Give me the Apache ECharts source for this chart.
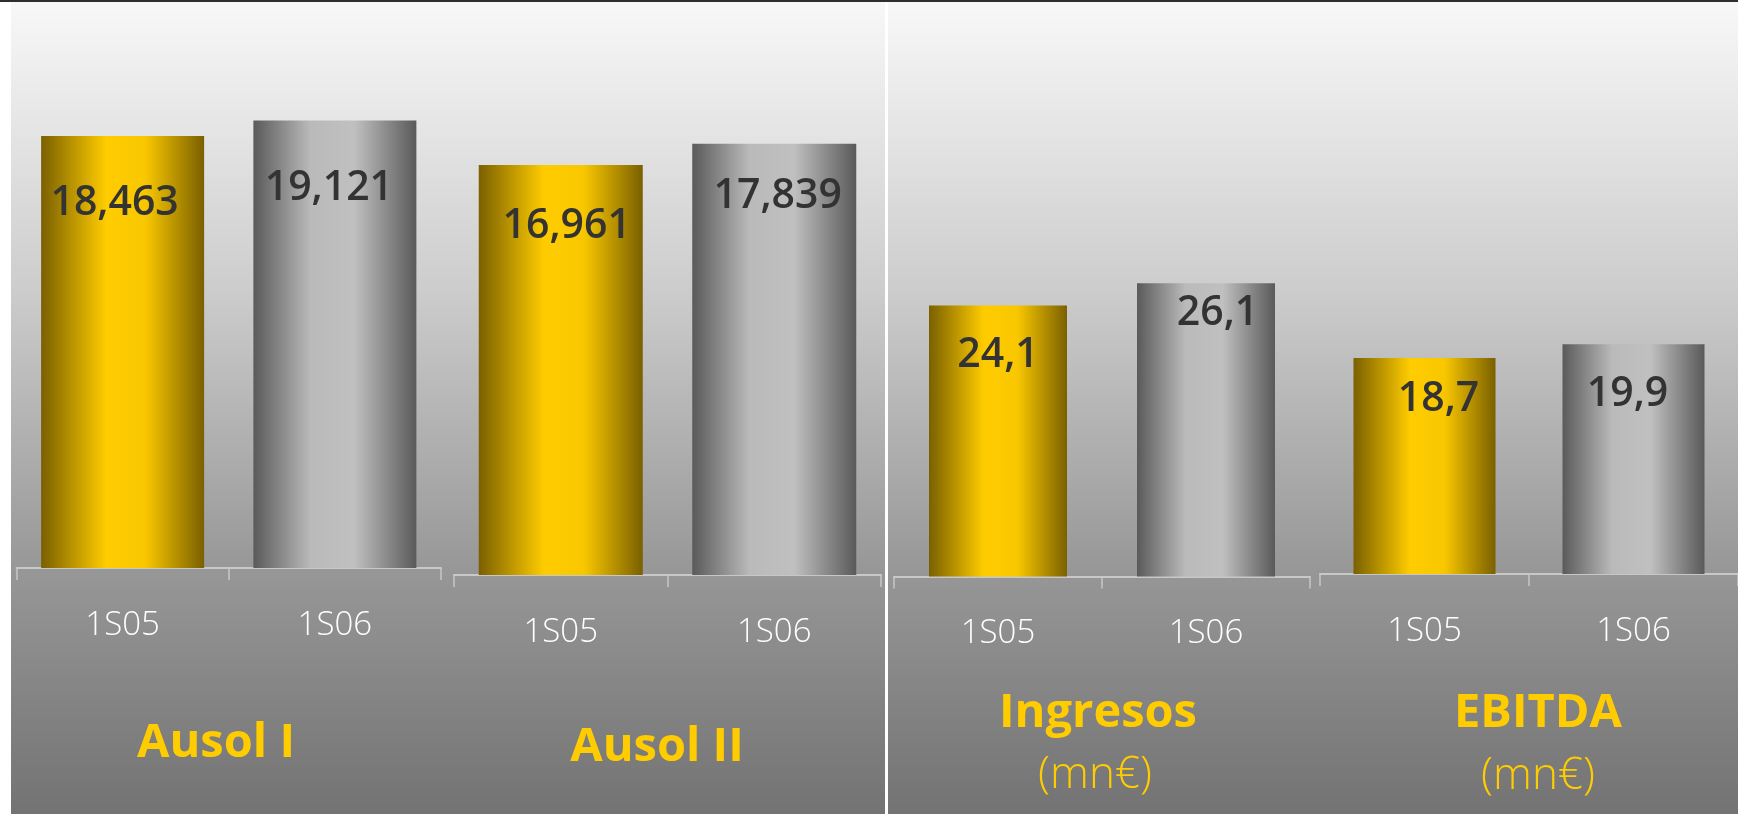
<!DOCTYPE html>
<html>
<head>
<meta charset="utf-8">
<title>Ausol 1S05 / 1S06</title>
<script src="https://cdn.jsdelivr.net/npm/echarts@6/dist/echarts.min.js"></script>
<style>
  html, body { margin: 0; padding: 0; background: #fff; }
  #chart { width: 1738px; height: 814px; }
</style>
</head>
<body>
<div id="chart"></div>
<script>
// periodos
const categories = ['1S05', '1S06'];
// IMD (vehiculos/dia)
const ausolI = [18463, 19121];
const ausolII = [16961, 17839];
// millones de euros
const ingresos = [24.1, 26.1];
const ebitda = [18.7, 19.9];
const panelNames = ['Ausol I', 'Ausol II', 'Ingresos', 'EBITDA'];
const unitText = '(mn€)';

const chart = echarts.init(document.getElementById('chart'));

const gold = {
  type: 'linear', x: 0, y: 0, x2: 1, y2: 0,
  colorStops: [
    { offset: 0, color: '#7a6000' },
    { offset: 0.4, color: '#ffcc00' },
    { offset: 0.64, color: '#f9c700' },
    { offset: 1, color: '#7a6000' }
  ]
};
const silver = {
  type: 'linear', x: 0, y: 0, x2: 1, y2: 0,
  colorStops: [
    { offset: 0, color: '#5a5a5a' },
    { offset: 0.35, color: '#bababa' },
    { offset: 0.62, color: '#c0c0c0' },
    { offset: 0.82, color: '#8a8a8a' },
    { offset: 1, color: '#5a5a5a' }
  ]
};
const bgFill = {
  type: 'linear', x: 0, y: 0, x2: 0, y2: 1,
  colorStops: [
    { offset: 0, color: '#f8f8f8' },
    { offset: 0.35, color: '#cdcdcd' },
    { offset: 0.7, color: '#979797' },
    { offset: 1, color: '#737373' }
  ]
};

// cajas de cada panel
const grids = [
  { left: 16.5, width: 424.5, top: 29.8, height: 538.2 },
  { left: 454, width: 427, top: 18.9, height: 556.1 },
  { left: 894, width: 416, top: 70.7, height: 505.8 },
  { left: 1320, width: 426, top: 54.25, height: 519.75 }
];
const yMax = [23000, 23000, 45, 45];
const barWidths = [163, 164, 138, 142];
// [dx, dy desde el tope de la barra]
const labelPos = [
  [[-8, 67], [-6, 68]],
  [[6, 61], [3.5, 53]],
  [[0, 50], [11.5, 30]],
  [[14, 41], [-6, 50]]
];

const fmtMiles = v => v.toLocaleString('en-US');
const fmtDecimal = v => v.toFixed(1).replace('.', ',');

const panels = [ausolI, ausolII, ingresos, ebitda];
const formatters = [fmtMiles, fmtMiles, fmtDecimal, fmtDecimal];

const axisColor = '#c8c8c8';

const series = panels.map((vals, i) => ({
  type: 'bar',
  xAxisIndex: i,
  yAxisIndex: i,
  barWidth: barWidths[i],
  itemStyle: {
    color: p => (p.dataIndex === 0 ? gold : silver)
  },
  label: {
    show: true,
    align: 'center',
    verticalAlign: 'middle',
    color: '#333',
    fontFamily: 'Open Sans',
    fontWeight: 600,
    fontSize: 41,
    formatter: p => formatters[i](p.value)
  },
  data: vals.map((v, j) => ({
    value: v,
    label: { position: ['50%', labelPos[i][j][1]], offset: [labelPos[i][j][0], 0] }
  }))
}));

const titleFont = 'Open Sans';
const titleStyle = (text, bold, size) => ({
  text: text,
  fill: '#ffcc00',
  fontFamily: titleFont,
  fontWeight: bold ? 'bold' : 300,
  fontSize: size,
  align: 'center',
  verticalAlign: 'middle'
});
const graphic = [
  { type: 'rect', z: -10, shape: { x: 11, y: 2, width: 874, height: 812 }, style: { fill: bgFill } },
  { type: 'rect', z: -10, shape: { x: 888, y: 2, width: 850, height: 812 }, style: { fill: bgFill } },
  { type: 'rect', z: -10, shape: { x: 0, y: 0, width: 1738, height: 2 }, style: { fill: '#2e2e2e' } },
  { type: 'text', z: 10, x: 216, y: 744, style: titleStyle(panelNames[0], true, 47) },
  { type: 'text', z: 10, x: 657, y: 748, style: titleStyle(panelNames[1], true, 47) },
  { type: 'text', z: 10, x: 1098, y: 714, style: titleStyle(panelNames[2], true, 47) },
  { type: 'text', z: 10, x: 1095, y: 775, style: titleStyle(unitText, false, 44) },
  { type: 'text', z: 10, x: 1538, y: 714, style: titleStyle(panelNames[3], true, 47) },
  { type: 'text', z: 10, x: 1538, y: 776, style: titleStyle(unitText, false, 44) }
];

const option = {
  animation: false,
  backgroundColor: '#ffffff',
  graphic: graphic,
  grid: grids.map(g => Object.assign({ containLabel: false }, g)),
  xAxis: grids.map((g, i) => ({
    type: 'category',
    gridIndex: i,
    data: categories,
    boundaryGap: true,
    axisLine: { show: true, lineStyle: { color: axisColor, width: 2 } },
    axisTick: { show: true, length: 12, lineStyle: { color: axisColor, width: 1.5 } },
    axisLabel: {
      interval: 0,
      margin: 41,
      color: '#ffffff',
      fontFamily: 'Open Sans',
      fontWeight: 300,
      fontSize: 33
    },
    splitLine: { show: false }
  })),
  yAxis: grids.map((g, i) => ({
    type: 'value',
    gridIndex: i,
    min: 0,
    max: yMax[i],
    show: false,
    splitLine: { show: false }
  })),
  series: series
};

chart.setOption(option);
</script>
</body>
</html>
